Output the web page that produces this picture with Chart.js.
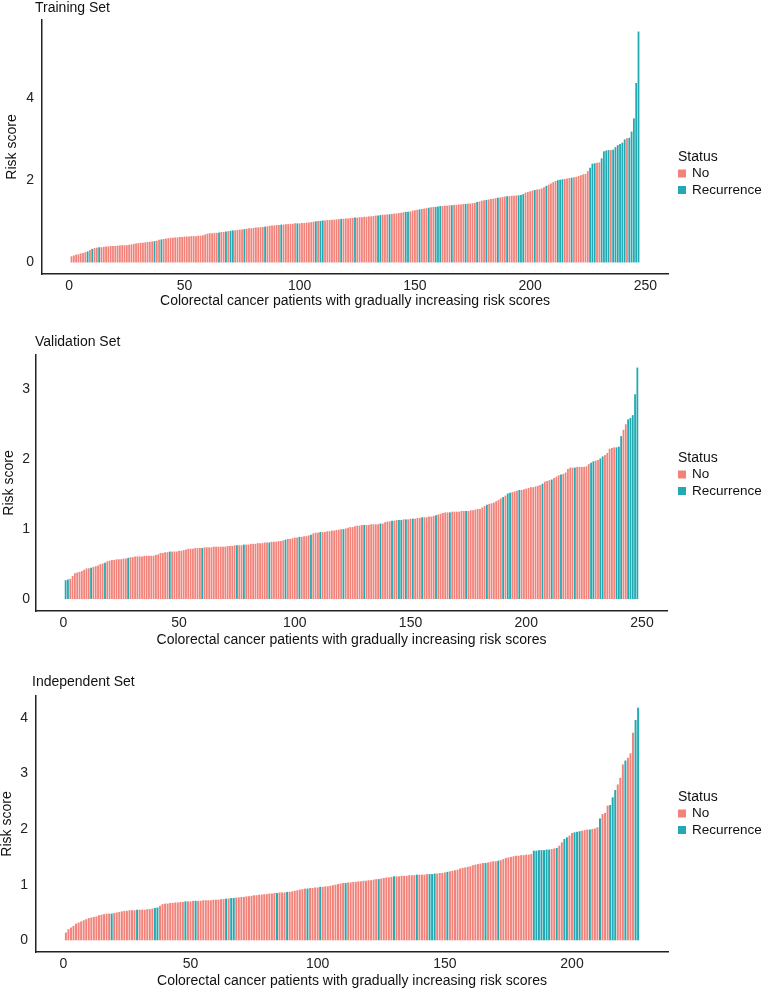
<!DOCTYPE html>
<html>
<head>
<meta charset="utf-8">
<script src="https://cdn.jsdelivr.net/npm/chart.js@4.4.0/dist/chart.umd.min.js"></script>
<style>
    body { margin: 0; background: #fff; width: 762px; height: 992px; position: relative; overflow: hidden; }
    .panel { position: absolute; left: 0; width: 762px; }
</style>
</head>
<body>
<div class="panel" style="top:0;height:320px"><canvas id="training-chart"></canvas></div>
<div class="panel" style="top:330px;height:320px"><canvas id="validation-chart"></canvas></div>
<div class="panel" style="top:662px;height:330px"><canvas id="independent-chart"></canvas></div>
<script>
var statusLabels = ['No', 'Recurrence'];
var statusColors = ['#F2837B', '#23A9B1'];
var xTitle = 'Colorectal cancer patients with gradually increasing risk scores';
var yTitle = 'Risk score';

var trainingXTicks = [0, 50, 100, 150, 200, 250];
var trainingYTicks = [0, 2, 4];
var validationXTicks = [0, 50, 100, 150, 200, 250];
var validationYTicks = [0, 1, 2, 3];
var independentXTicks = [0, 50, 100, 150, 200];
var independentYTicks = [0, 1, 2, 3, 4];

// risk scores, sorted, one per patient
var trainingScores = [
    0.15, 0.17, 0.19, 0.20, 0.22, 0.23, 0.25, 0.27, 0.30, 0.33,
    0.35, 0.36, 0.37, 0.37, 0.38, 0.39, 0.39, 0.40, 0.40, 0.40,
    0.41, 0.41, 0.42, 0.42, 0.42, 0.43, 0.44, 0.45, 0.46, 0.47,
    0.48, 0.48, 0.49, 0.50, 0.50, 0.51, 0.52, 0.53, 0.55, 0.56,
    0.57, 0.58, 0.59, 0.60, 0.60, 0.61, 0.61, 0.62, 0.62, 0.63,
    0.63, 0.63, 0.64, 0.64, 0.64, 0.65, 0.65, 0.66, 0.68, 0.70,
    0.71, 0.71, 0.72, 0.72, 0.73, 0.74, 0.74, 0.75, 0.76, 0.77,
    0.78, 0.78, 0.79, 0.80, 0.80, 0.81, 0.82, 0.83, 0.83, 0.84,
    0.85, 0.85, 0.86, 0.86, 0.87, 0.88, 0.89, 0.90, 0.90, 0.91,
    0.91, 0.92, 0.92, 0.93, 0.93, 0.94, 0.94, 0.95, 0.95, 0.95,
    0.96, 0.96, 0.97, 0.97, 0.98, 0.99, 1.00, 1.01, 1.01, 1.02,
    1.02, 1.03, 1.03, 1.04, 1.04, 1.05, 1.05, 1.06, 1.06, 1.07,
    1.07, 1.08, 1.08, 1.09, 1.09, 1.10, 1.10, 1.11, 1.11, 1.12,
    1.12, 1.13, 1.14, 1.14, 1.15, 1.16, 1.16, 1.17, 1.17, 1.18,
    1.19, 1.19, 1.20, 1.21, 1.22, 1.23, 1.23, 1.24, 1.26, 1.27,
    1.28, 1.29, 1.30, 1.31, 1.32, 1.33, 1.34, 1.35, 1.35, 1.36,
    1.37, 1.37, 1.38, 1.38, 1.39, 1.39, 1.40, 1.40, 1.41, 1.41,
    1.42, 1.42, 1.43, 1.43, 1.44, 1.45, 1.47, 1.48, 1.50, 1.51,
    1.52, 1.53, 1.54, 1.55, 1.56, 1.57, 1.58, 1.59, 1.60, 1.61,
    1.61, 1.62, 1.62, 1.63, 1.63, 1.64, 1.66, 1.70, 1.71, 1.73,
    1.75, 1.76, 1.77, 1.78, 1.80, 1.83, 1.86, 1.89, 1.92, 1.95,
    1.98, 2.00, 2.01, 2.02, 2.03, 2.04, 2.05, 2.06, 2.07, 2.08,
    2.10, 2.12, 2.14, 2.15, 2.22, 2.30, 2.40, 2.41, 2.42, 2.43,
    2.53, 2.70, 2.72, 2.73, 2.73, 2.74, 2.80, 2.85, 2.88, 2.91,
    2.99, 3.02, 3.03, 3.18, 3.50, 4.36, 5.61
];
var trainingStatus = ('NNNNNNNRNR' + 'NNRNNNNNNN' + 'NNNNNNNNNN' + 'NNNNNNRNNR' + 'NNNNNNNNNN' +
    'NNNNNNNNNN' + 'NNNNRNNRNR' + 'RNNNNRNNNN' + 'NNNNRNNNNN' + 'NRNNNNNNRN' +
    'NNNNNNRNRR' + 'NNNNNNNRNN' + 'NNNRNNNNNN' + 'NNNRRNNNRN' + 'NNNNNRRNNN' +
    'NRNNNRNNRR' + 'RNNNNRNNNN' + 'NRNNNNRNNN' + 'RNNNNRNNNR' + 'NNNNRRRNNN' +
    'NRNNNNRNNN' + 'NRRRNNNRNN' + 'NNNNNRRRNN' + 'RRRRNRRRRR' + 'RNRRRRR').split('');

var validationScores = [
    0.27, 0.28, 0.29, 0.33, 0.37, 0.38, 0.39, 0.40, 0.42, 0.44,
    0.44, 0.45, 0.46, 0.47, 0.48, 0.50, 0.51, 0.52, 0.54, 0.55,
    0.56, 0.56, 0.57, 0.57, 0.57, 0.58, 0.58, 0.59, 0.60, 0.60,
    0.61, 0.61, 0.61, 0.61, 0.62, 0.62, 0.62, 0.62, 0.62, 0.63,
    0.64, 0.66, 0.66, 0.67, 0.67, 0.68, 0.68, 0.68, 0.68, 0.69,
    0.69, 0.70, 0.71, 0.72, 0.72, 0.72, 0.73, 0.73, 0.73, 0.73,
    0.74, 0.74, 0.74, 0.74, 0.75, 0.75, 0.75, 0.75, 0.75, 0.75,
    0.76, 0.76, 0.76, 0.77, 0.77, 0.77, 0.77, 0.78, 0.78, 0.78,
    0.79, 0.79, 0.79, 0.80, 0.80, 0.80, 0.81, 0.81, 0.81, 0.82,
    0.82, 0.82, 0.83, 0.83, 0.84, 0.85, 0.86, 0.86, 0.87, 0.88,
    0.88, 0.89, 0.89, 0.90, 0.90, 0.91, 0.92, 0.94, 0.95, 0.95,
    0.96, 0.96, 0.96, 0.97, 0.97, 0.98, 0.98, 0.99, 0.99, 1.00,
    1.00, 1.01, 1.02, 1.03, 1.03, 1.04, 1.05, 1.05, 1.06, 1.06,
    1.06, 1.06, 1.07, 1.07, 1.07, 1.07, 1.08, 1.08, 1.10, 1.11,
    1.11, 1.12, 1.12, 1.13, 1.13, 1.13, 1.14, 1.14, 1.14, 1.15,
    1.15, 1.15, 1.16, 1.16, 1.17, 1.17, 1.17, 1.18, 1.18, 1.19,
    1.20, 1.21, 1.22, 1.23, 1.24, 1.24, 1.24, 1.25, 1.25, 1.25,
    1.25, 1.26, 1.26, 1.26, 1.26, 1.27, 1.27, 1.28, 1.29, 1.29,
    1.31, 1.33, 1.35, 1.36, 1.37, 1.38, 1.40, 1.42, 1.44, 1.46,
    1.48, 1.51, 1.52, 1.53, 1.54, 1.55, 1.56, 1.56, 1.57, 1.58,
    1.59, 1.60, 1.60, 1.61, 1.62, 1.63, 1.65, 1.68, 1.69, 1.70,
    1.71, 1.73, 1.75, 1.77, 1.78, 1.79, 1.81, 1.86, 1.88, 1.88,
    1.88, 1.89, 1.89, 1.89, 1.89, 1.90, 1.93, 1.95, 1.97, 1.98,
    1.99, 2.01, 2.04, 2.06, 2.09, 2.15, 2.16, 2.17, 2.17, 2.18,
    2.33, 2.42, 2.50, 2.57, 2.59, 2.63, 2.93, 3.31
];
var validationStatus = ('RRNNNNNNNN' + 'NRNNNNNRNN' + 'NNNNNNNRNN' + 'NNNNNNNNNN' + 'NNNNNRNNNN' +
    'NNNNNNNNNR' + 'NNNNNNNNNN' + 'NNNNRNNRNN' + 'NNNNNNNNRN' + 'NNNNNRNNNN' +
    'NRNNNNRNNN' + 'RNNNNNNNNN' + 'RNNNNNNNNR' + 'NNNNNNRNNN' + 'NRNNRRNRNN' +
    'RNNNRNNNNN' + 'RNNNNNRNNN' + 'NNNRNNNNNN' + 'NNRNNNNNNR' + 'NRRNNNRNNN' +
    'NNNNNNRNNN' + 'RNNNRNNNNN' + 'RNNNNNNRRN' + 'NRRNNNNNRR' + 'RNNRRRRR').split('');

var independentScores = [
    0.14, 0.20, 0.23, 0.26, 0.30, 0.32, 0.34, 0.36, 0.38, 0.40,
    0.41, 0.42, 0.43, 0.45, 0.46, 0.47, 0.48, 0.48, 0.48, 0.49,
    0.50, 0.51, 0.52, 0.53, 0.53, 0.54, 0.54, 0.54, 0.55, 0.55,
    0.55, 0.55, 0.56, 0.56, 0.57, 0.58, 0.59, 0.62, 0.65, 0.66,
    0.66, 0.67, 0.67, 0.68, 0.68, 0.69, 0.69, 0.70, 0.70, 0.70,
    0.71, 0.71, 0.71, 0.71, 0.72, 0.72, 0.72, 0.72, 0.73, 0.73,
    0.73, 0.74, 0.74, 0.75, 0.75, 0.76, 0.76, 0.77, 0.77, 0.78,
    0.78, 0.79, 0.79, 0.80, 0.81, 0.81, 0.82, 0.82, 0.83, 0.83,
    0.84, 0.84, 0.85, 0.85, 0.86, 0.86, 0.86, 0.87, 0.87, 0.88,
    0.89, 0.90, 0.91, 0.92, 0.93, 0.93, 0.94, 0.94, 0.95, 0.95,
    0.96, 0.96, 0.97, 0.97, 0.98, 0.99, 1.00, 1.01, 1.02, 1.03,
    1.03, 1.04, 1.04, 1.05, 1.05, 1.06, 1.06, 1.07, 1.07, 1.08,
    1.08, 1.09, 1.10, 1.10, 1.11, 1.12, 1.13, 1.13, 1.14, 1.15,
    1.15, 1.15, 1.16, 1.16, 1.16, 1.17, 1.17, 1.17, 1.18, 1.18,
    1.18, 1.18, 1.19, 1.19, 1.19, 1.20, 1.20, 1.21, 1.21, 1.22,
    1.23, 1.24, 1.25, 1.26, 1.27, 1.29, 1.30, 1.31, 1.32, 1.33,
    1.35, 1.36, 1.37, 1.38, 1.39, 1.39, 1.40, 1.41, 1.42, 1.42,
    1.43, 1.44, 1.46, 1.48, 1.49, 1.50, 1.51, 1.52, 1.52, 1.53,
    1.53, 1.54, 1.54, 1.55, 1.61, 1.61, 1.62, 1.62, 1.62, 1.63,
    1.63, 1.64, 1.65, 1.66, 1.70, 1.76, 1.82, 1.85, 1.88, 1.93,
    1.94, 1.95, 1.96, 1.97, 1.98, 1.99, 1.99, 2.00, 2.01, 2.03,
    2.19, 2.27, 2.29, 2.42, 2.43, 2.57, 2.70, 2.80, 2.92, 3.16,
    3.23, 3.28, 3.36, 3.73, 3.96, 4.18
];
var independentStatus = ('NNNNNNNNNN' + 'NNNNNNNNRN' + 'NNNNNNNNRN' + 'NNNNNRRNNN' + 'NNNNNNNRNN' +
    'NRNNNNNNNN' + 'NNNRNRRNNN' + 'NNNNNNNNNN' + 'NNNRNNNRNN' + 'NNNNNRNNNN' +
    'RNNNNNNNNN' + 'RNNNNNNNNN' + 'NNNRNNNNNR' + 'NNNNNNNNRN' + 'NNNRRRNNNN' +
    'RNNNNNNNNN' + 'NNNNNRNNNN' + 'RNNNNNNNNN' + 'NNNNRRRRRR' + 'RNNRNNRRNN' +
    'RRRNNNRNNN' + 'RNNNRRRNNN' + 'RNNNRR').split('');

var fontFamily = '"Liberation Sans", Arial, sans-serif';

var panelDecor = {
    id: 'panelDecor',
    afterDraw: function (chart, args, opts) {
        var ctx = chart.ctx;
        ctx.save();
        ctx.textBaseline = 'middle';
        ctx.textAlign = 'left';
        ctx.fillStyle = '#111';
        ctx.font = '14px ' + fontFamily;
        ctx.fillText(opts.title, opts.titleX, opts.titleY);
        ctx.fillText('Status', opts.legendX, opts.legendY);
        ctx.font = '13.5px ' + fontFamily;
        for (var k = 0; k < statusLabels.length; ++k) {
            var yy = opts.legendY + 16.5 * (k + 1);
            ctx.fillStyle = statusColors[k];
            ctx.fillRect(opts.legendX, yy - 4, 8, 8);
            ctx.fillStyle = '#111';
            ctx.fillText(statusLabels[k], opts.legendX + 14, yy);
        }
        ctx.restore();
    }
};

function fixedTicks(values) {
    return function (scale) {
        scale.ticks = values.map(function (v) { return {value: v}; });
    };
}

function makeChart(canvasId, scores, status, xTicks, yTicks, p) {
    var noPoints = [];
    var recPoints = [];
    for (var i = 0; i < scores.length; ++i) {
        var pt = {x: i + 1, y: scores[i]};
        if (status[i] === 'R') {
            recPoints.push(pt);
        } else {
            noPoints.push(pt);
        }
    }
    return new Chart(document.getElementById(canvasId), {
        type: 'bar',
        data: {
            datasets: [
                {label: statusLabels[0], data: noPoints, backgroundColor: statusColors[0]},
                {label: statusLabels[1], data: recPoints, backgroundColor: statusColors[1]}
            ]
        },
        plugins: [panelDecor],
        options: {
            responsive: true,
            maintainAspectRatio: false,
            animation: false,
            devicePixelRatio: 1,
            datasets: {
                bar: {grouped: false, barPercentage: 0.78, categoryPercentage: 1, borderWidth: 0}
            },
            layout: {padding: {left: 0, right: p.right, top: p.top, bottom: p.bottom}},
            plugins: {
                legend: {display: false},
                title: {display: false},
                tooltip: {enabled: false},
                panelDecor: {
                    title: p.title, titleX: p.titleX, titleY: p.titleY,
                    legendX: 678, legendY: p.legendY
                }
            },
            scales: {
                x: {
                    type: 'linear',
                    offset: false,
                    min: p.xMin,
                    max: p.xMax,
                    afterBuildTicks: fixedTicks(xTicks),
                    grid: {display: false, drawTicks: false},
                    border: {display: true, color: '#222', width: 1.5},
                    ticks: {padding: 4, color: '#222', font: {family: fontFamily, size: 14}, maxRotation: 0},
                    title: {display: true, text: xTitle, color: '#111',
                        font: {family: fontFamily, size: 14, lineHeight: 1.2},
                        padding: {top: 0, bottom: p.xTitlePad}},
                    afterFit: function (scale) { scale.height = 38; }
                },
                y: {
                    type: 'linear',
                    min: p.yMin,
                    max: p.yMax,
                    afterBuildTicks: fixedTicks(yTicks),
                    grid: {display: false, drawTicks: false},
                    border: {display: true, color: '#222', width: 1.5},
                    ticks: {padding: p.yTickPad, color: '#222', font: {family: fontFamily, size: 14}},
                    title: {display: true, text: yTitle, color: '#111',
                        font: {family: fontFamily, size: 14, lineHeight: 1},
                        padding: {top: p.yTitlePad, bottom: 0}},
                    afterFit: function (scale) { scale.width = p.yWidth; }
                }
            }
        }
    });
}

makeChart('training-chart', trainingScores, trainingStatus, trainingXTicks, trainingYTicks, {
    title: 'Training Set', titleX: 35, titleY: 8, legendY: 157,
    top: 20, bottom: 8, right: 94, yWidth: 42, yTickPad: 8, yTitlePad: 5, xTitlePad: 2,
    xMin: -11.8, xMax: 259.8, yMin: -0.28, yMax: 5.89
});
makeChart('validation-chart', validationScores, validationStatus, validationXTicks, validationYTicks, {
    title: 'Validation Set', titleX: 35, titleY: 12, legendY: 128,
    top: 25, bottom: 1, right: 95, yWidth: 36, yTickPad: 6, yTitlePad: 2, xTitlePad: 0,
    xMin: -11.8, xMax: 260.8, yMin: -0.17, yMax: 3.49
});
makeChart('independent-chart', independentScores, independentStatus, independentXTicks, independentYTicks, {
    title: 'Independent Set', titleX: 32, titleY: 20, legendY: 135,
    top: 34, bottom: 2, right: 94, yWidth: 36, yTickPad: 8, yTitlePad: 0, xTitlePad: 0,
    xMin: -10.75, xMax: 237.75, yMin: -0.21, yMax: 4.39
});
</script>
</body>
</html>
